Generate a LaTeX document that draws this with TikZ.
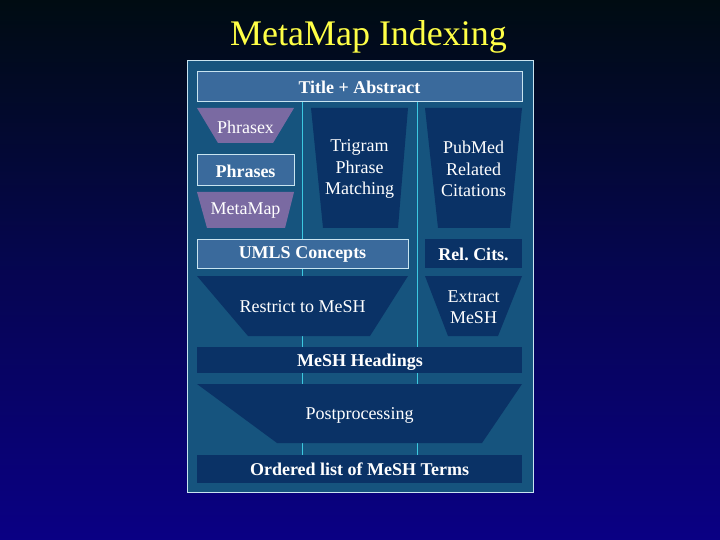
\documentclass[tikz,border=0pt]{standalone}
\usepackage{fontspec}
\setmainfont{Liberation Serif}
\usepackage{tikz}
\usepackage{xcolor}
\definecolor{bgtop}{RGB}{0,12,18}
\definecolor{bgbot}{RGB}{10,0,132}
\definecolor{panelfill}{RGB}{22,84,126}
\definecolor{boxfill}{RGB}{58,106,156}
\definecolor{darkfill}{RGB}{10,50,102}
\definecolor{purplefill}{RGB}{122,106,162}
\definecolor{edgeline}{RGB}{200,228,240}
\definecolor{flowline}{RGB}{60,200,225}
\definecolor{headline}{RGB}{255,255,70}

\tikzset{
    lightbox/.style={fill=boxfill,draw=edgeline,line width=1pt},
    darkbox/.style={fill=darkfill},
    funnel/.style={fill=darkfill},
    purplefunnel/.style={fill=purplefill},
    label/.style={text=white,font=\fontsize{18}{21.5}\selectfont,align=center,inner sep=0pt},
    boldlabel/.style={label,font=\fontsize{18}{21.5}\selectfont\bfseries}
}

\begin{document}
\frenchspacing
\begin{tikzpicture}[x=1pt,y=-1pt]
        \useasboundingbox (0,0) rectangle (720,540);
        \shade[top color=bgtop,bottom color=bgbot,middle color=bgbot!55!bgtop] (0,0) rectangle (720,540);
        \node[text=headline,font=\fontsize{36}{40}\selectfont,anchor=base,inner sep=0pt] (head) at (368.5,46) {MetaMap Indexing};

        % panel
        \draw[fill=panelfill,draw=edgeline,line width=1pt] (187,61) rectangle (533,492);

        % flow lines
        \coordinate (l1) at (302,102);
        \coordinate (l2) at (302,455);
        \coordinate (r1) at (417,102);
        \coordinate (r2) at (417,455);
        \draw[flowline,line width=0.9pt] (l1) -- (l2);
        \draw[flowline,line width=0.9pt] (r1) -- (r2);

        % top row
        \draw[lightbox] (197,72) rectangle (522,102);
        \node[boldlabel] (title) at (359.5,87) {Title + Abstract};

        \fill[purplefunnel] (197,108) -- (294,108) -- (273,143) -- (218,143) -- cycle;
        \node[label] (phrasex) at (245.5,127) {Phrasex};
        \draw[lightbox] (197,155) rectangle (294,186);
        \node[boldlabel] (phrases) at (245.5,171) {Phrases};
        \fill[purplefunnel] (197,192) -- (294,192) -- (285,228) -- (207,228) -- cycle;
        \node[label] (metamap) at (245.5,211) {MetaMap};

        \fill[funnel] (311,108) -- (408,108) -- (398,228) -- (323,228) -- cycle;
        \node[label] (trigram) at (359.5,169) {Trigram\\Phrase\\Matching};
        \fill[funnel] (425,108) -- (522,108) -- (510,228) -- (438,228) -- cycle;
        \node[label] (pubmed) at (473.5,169) {PubMed\\Related\\Citations};

        % middle row
        \draw[lightbox] (197,239) rectangle (408,268);
        \node[boldlabel] (umls) at (302.5,254) {UMLS Concepts};
        \fill[darkbox] (425,239) rectangle (522,268);
        \node[boldlabel] (relcits) at (473.5,254) {Rel. Cits.};

        \fill[funnel] (197,276) -- (408,276) -- (370,336) -- (248,336) -- cycle;
        \node[label] (restrict) at (302.5,307) {Restrict to MeSH};
        \fill[funnel] (425,276) -- (522,276) -- (498,336) -- (448,336) -- cycle;
        \node[label] (extract) at (473.5,307) {Extract\\MeSH};

        % bottom rows
        \fill[darkbox] (197,347) rectangle (522,373);
        \node[boldlabel] (headings) at (360,362) {MeSH Headings};
        \fill[funnel] (197,384) -- (522,384) -- (482,443) -- (277,443) -- cycle;
        \node[label] (post) at (359.5,415) {Postprocessing};
        \fill[darkbox] (197,455) rectangle (522,483);
        \node[boldlabel] (ordered) at (359.5,469) {Ordered list of MeSH Terms};
\end{tikzpicture}
\end{document}
